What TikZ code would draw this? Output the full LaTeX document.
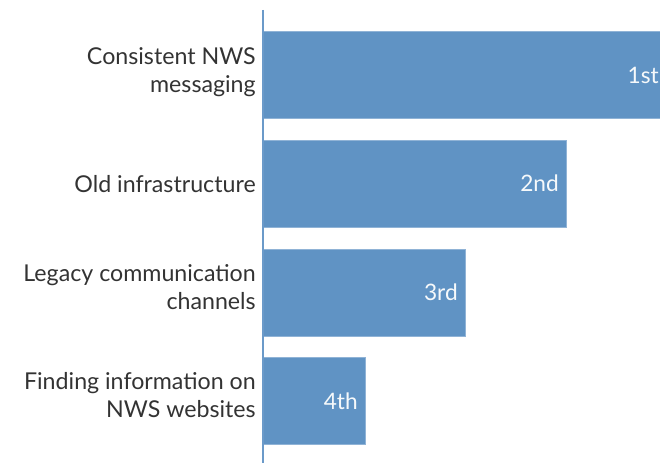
\documentclass[tikz,border=0pt]{standalone}
\usepackage{fontspec}
\setmainfont{Lato}
\definecolor{barblue}{HTML}{6093C4}
\definecolor{axisblue}{HTML}{6B9AC9}
\definecolor{labelgray}{HTML}{333333}

\begin{document}
\begin{tikzpicture}[x=0.75pt,y=-0.75pt]
\tikzstyle{bar}=[rectangle,anchor=west,fill=barblue,draw=barblue!70!white,line width=0.4pt,inner sep=0pt,outer sep=0pt,minimum height=65.25pt,minimum width=#1]
\tikzstyle{cat}=[anchor=east,align=right,inner sep=0pt,text=labelgray,font=\fontsize{17.4}{20.5}\selectfont]
\tikzstyle{rank}=[anchor=east,inner sep=0pt,text=white!94!barblue,font=\fontsize{17}{20.5}\selectfont]
\clip (0,0) rectangle (660,463);

\node[bar=302.25pt](B1) at (263,75) {};
\node[bar=227.25pt](B2) at (263,183.5) {};
\node[bar=151.5pt](B3) at (263,292.5) {};
\node[bar=76.5pt](B4) at (263,401) {};

\node[rank](R1) at ([xshift=-5.25pt]B1.east) {1st};
\node[rank](R2) at ([xshift=-5.25pt]B2.east) {2nd};
\node[rank](R3) at ([xshift=-5.25pt]B3.east) {3rd};
\node[rank](R4) at ([xshift=-5.25pt]B4.east) {4th};

\node[cat](C1) at (256,72) {Consistent NWS\\messaging};
\node[cat](C2) at (256,184) {Old infrastructure};
\node[cat](C3) at (256,287) {Legacy communication\\channels};
\node[cat](C4) at (256,395) {Finding information on\\NWS websites};

\coordinate (top) at (263,10);
\coordinate (bottom) at (263,463);
\draw[axisblue,line width=1.5pt] (top) -- (bottom);
\end{tikzpicture}
\end{document}
